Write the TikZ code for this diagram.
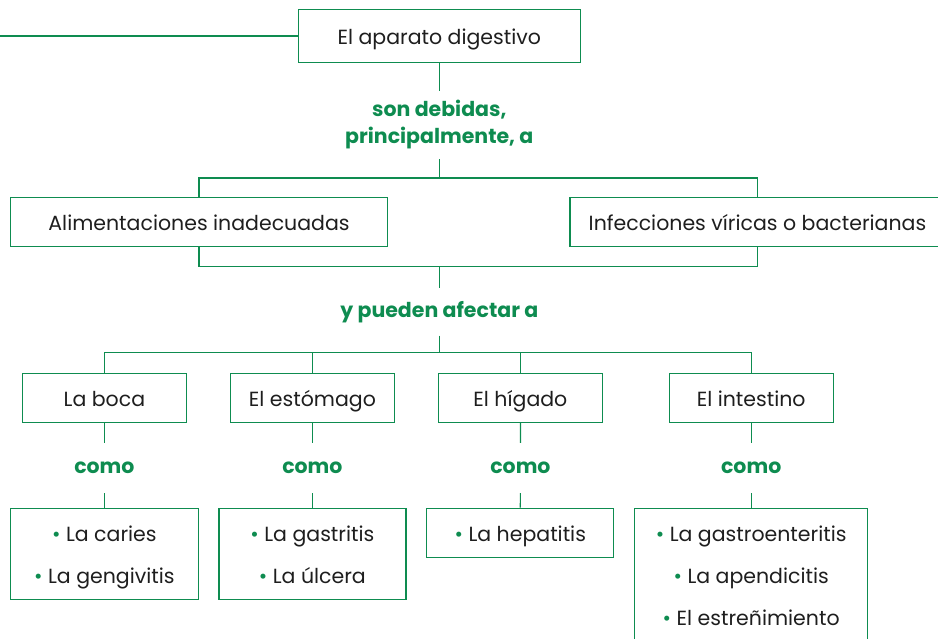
\documentclass[tikz,border=0pt]{standalone}
\usepackage{fontspec}
\setmainfont{Poppins}
\definecolor{mapgreen}{RGB}{14,140,80}
\definecolor{maptext}{RGB}{30,30,30}
\newcommand\lbullet{{\color{mapgreen}\textbullet}~}

\def\rowsep{42}

\begin{document}
\begin{tikzpicture}[x=1pt,y=-1pt,draw=mapgreen,line width=1.2pt]
    \tikzstyle{box}=[draw,rectangle,inner sep=0pt,text=maptext,font=\fontsize{20.5}{\rowsep}\selectfont,align=center,
        execute at begin node=\strut,execute at end node=\strut]
    \tikzstyle{list}=[box,text depth=10pt]
    \tikzstyle{organ}=[box,minimum width=164pt,minimum height=49pt]
    \tikzstyle{link}=[inner sep=0pt,text=mapgreen,font=\fontsize{20.5}{27}\selectfont\bfseries,align=center]

    \useasboundingbox (0,0) rectangle (938,638);

    \node[box,minimum width=282pt,minimum height=53pt] (top) at (439.3,36) {El aparato digestivo};
    \node[link,minimum height=75pt] (debidas) at (439.3,125) {son debidas,\\principalmente, a};

    \node[box,minimum width=377pt,minimum height=49pt] (alim) at (199,222.2) {Alimentaciones inadecuadas};
    \node[box,minimum width=375pt,minimum height=49pt] (infec) at (757.5,222.2) {Infecciones víricas o bacterianas};

    \node[link,minimum height=46pt] (afectar) at (439.3,312) {y pueden afectar a};

    \foreach \name/\x/\txt in {boca/104.4/La boca, estom/312.4/El estómago, higado/520.4/El hígado, intest/751.2/El intestino}
    {
        \node[organ] (\name) at (\x,397.8) {\txt};
        \node[link,minimum height=49pt] (como-\name) at (\x,468) {como};
    }

    \node[list,text height=69.6pt,minimum width=188pt,minimum height=91pt] (list-boca) at (104.4,553.7) {\lbullet La caries\\\lbullet La gengivitis};
    \node[list,text height=69.6pt,minimum width=187pt,minimum height=91pt] (list-estom) at (312.4,553.7) {\lbullet La gastritis\\\lbullet La úlcera};
    \node[box,minimum width=187pt,minimum height=49pt] (list-higado) at (520.3,532.8) {\lbullet La hepatitis};
    \node[list,text height=111pt,minimum width=233pt,minimum height=134pt] (list-intest) at (751.2,575.3) {\lbullet La gastroenteritis\\\lbullet La apendicitis\\\lbullet El estreñimiento};

    \coordinate (edge) at (0,36);
    \coordinate (bar1) at (439.3,178);
    \coordinate (bar2) at (439.3,266.7);
    \coordinate (bar3) at (439.3,352.7);

    \draw (edge) -- (top);
    \draw[shorten >=-4pt] (top) -- (debidas);
    \draw[shorten <=-4pt] (debidas) -- (bar1);
    \draw (alim.north) |- (bar1) -| (infec.north);
    \draw (alim.south) |- (bar2) -| (infec.south);
    \draw (bar2) -- (afectar);
    \draw (afectar) -- (bar3);
    \draw (boca.north) |- (bar3) -| (intest.north);
    \foreach \name in {estom,higado}
        \draw (\name.north) -- (\name.north |- bar3);

    % each organ, its "como" and its list
    \foreach \name in {boca,estom,higado,intest}
        \draw (\name) -- (como-\name) -- (list-\name);

\end{tikzpicture}
\end{document}
